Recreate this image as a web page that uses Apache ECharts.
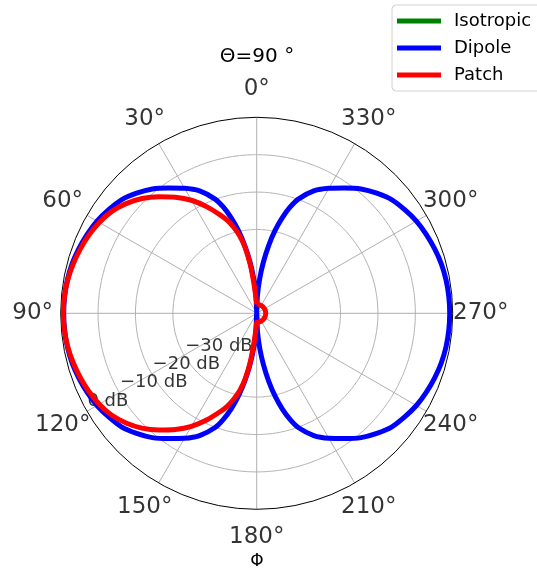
<!DOCTYPE html>
<html><head><meta charset="utf-8">
<script src="https://cdn.jsdelivr.net/npm/echarts@6/dist/echarts.min.js"></script>
<style>html,body{margin:0;padding:0;background:#fff}#c{width:537px;height:571px}</style>
</head><body><div id="c"></div>
<script>
// sampling angles (degrees, counter-clockwise from top); denser near the nulls
const angles = [0,2.5,5,7.5,10,12.5,15,17.5,20,
  25,30,35,40,45,50,55,60,65,70,75,80,85,90,95,100,105,110,115,120,125,130,135,140,145,150,155,
  160,162.5,165,167.5,170,172.5,175,177.5,180,182.5,185,187.5,190,192.5,195,197.5,200,
  205,210,215,220,225,230,235,240,245,250,255,260,265,270,275,280,285,290,295,300,305,310,315,320,325,330,335,
  340,342.5,345,347.5,350,352.5,355,357.5,360];

const dipoleDb = [-52.4,-47.5,-43,-38.5,-34,-29.7,-25.9,-22.6,-19.9,
  -16.3,-13.8,-11.5,-9.0,-7.0,-5.2,-4.1,-3.1,-2.4,-1.8,-1.3,-1.0,-0.85,-0.8,-0.85,-1.0,-1.3,-1.8,-2.4,-3.1,-4.1,-5.2,-7.0,-9.0,-11.5,-13.8,-16.3,
  -19.9,-22.6,-25.9,-29.7,-34,-38.5,-43,-47.5,-52.4,-47.5,-43,-38.5,-34,-29.7,-25.9,-22.6,-19.9,
  -16.3,-13.8,-11.5,-9.0,-7.0,-5.2,-4.1,-3.1,-2.4,-1.8,-1.3,-1.0,-0.85,-0.8,-0.85,-1.0,-1.3,-1.8,-2.4,-3.1,-4.1,-5.2,-7.0,-9.0,-11.5,-13.8,-16.3,
  -19.9,-22.6,-25.9,-29.7,-34,-38.5,-43,-47.5,-52.4];

const patchDb = [-50,-48.5,-45,-39.3,-34.5,-31.1,-28.6,-26.4,-24.6,
  -21.0,-17.5,-14.5,-11.7,-9.0,-6.8,-5.0,-3.8,-2.9,-2.2,-1.6,-1.1,-0.8,-0.7,-0.8,-1.1,-1.6,-2.2,-2.9,-3.8,-5.0,-6.8,-9.0,-11.7,-14.5,-17.5,-21.0,
  -24.6,-26.4,-28.6,-31.1,-34.5,-39.3,-45,-48.5,-50,-50,-50,-50,-50,-50,-50,-50,-50,
  -50,-50,-50,-50,-50,-50,-50,-50,-50,-50,-50,-50,-50,-50,-50,-50,-50,-50,-50,-50,-50,-50,-50,-50,-50,-50,-50,
  -50,-50,-50,-50,-50,-50,-50,-50,-50];

const isotropicDb = [];

const ringDb = [-30, -20, -10];
const rTickValues = [-30, -20, -10, 0];
const rTickLabels = ['\u221230 dB', '\u221220 dB', '\u221210 dB', '0 dB'];
const angleTicks = [0, 30, 60, 90, 120, 150, 180, 210, 240, 270, 300, 330];
const angleTickLabels = ['0°','30°','60°','90°','120°','150°','180°','210°','240°','270°','300°','330°'];

const FONT = 'DejaVu Sans';
const center = [256.7, 313.3];

const series = [];
ringDb.forEach(v => series.push({
  type: 'line', coordinateSystem: 'polar', polarIndex: 0, silent: true, symbol: 'none', z: 1,
  smooth: 0.5,
  lineStyle: { color: '#b0b0b0', width: 1 },
  data: angles.map(a => [v, a])
}));
series.push({
  type: 'scatter', coordinateSystem: 'polar', polarIndex: 0, silent: true, z: 1, symbolSize: 1,
  itemStyle: { color: 'rgba(0,0,0,0)' },
  data: rTickValues.map(v => [v, 119.4]),
  label: { show: true, position: 'right', distance: 1, offset: [0, -8.5],
    fontFamily: FONT, fontSize: 18, color: '#000',
    formatter: p => rTickLabels[p.dataIndex] }
});
series.push({ name: 'Isotropic', type: 'line', coordinateSystem: 'polar', polarIndex: 0, symbol: 'none', z: 3,
  color: '#008000', lineStyle: { color: '#008000', width: 5 }, data: isotropicDb });
series.push({ name: 'Dipole', type: 'line', coordinateSystem: 'polar', polarIndex: 0, symbol: 'none', z: 3,
  smooth: 0.3,
  color: '#0000ff', lineStyle: { color: '#0000ff', width: 5 },
  data: angles.map((a, i) => [dipoleDb[i], a]) });
series.push({ name: 'Patch', type: 'line', coordinateSystem: 'polar', polarIndex: 0, symbol: 'none', z: 4,
  smooth: 0.3,
  color: '#ff0000', lineStyle: { color: '#ff0000', width: 5 },
  data: angles.map((a, i) => [patchDb[i], a]) });
series.push({
  type: 'scatter', coordinateSystem: 'polar', polarIndex: 1, silent: true, symbolSize: 1,
  itemStyle: { color: 'rgba(0,0,0,0)' },
  data: angleTicks.map(a => [1, a]),
  label: { show: true, position: 'inside', fontFamily: FONT, fontSize: 23, color: '#000',
    formatter: p => angleTickLabels[p.dataIndex] }
});

const chart = echarts.init(document.getElementById('c'), null, { renderer: 'canvas' });
chart.setOption({
  animation: false,
  backgroundColor: '#fff',
  polar: [
    { center: center, radius: 196 },
    { center: center, radius: 224 }
  ],
  angleAxis: [
    { polarIndex: 0, type: 'value', startAngle: 90, clockwise: false, min: 0, max: 360, interval: 30,
      axisLine: { show: true, lineStyle: { color: '#000', width: 1 } },
      axisTick: { show: false }, axisLabel: { show: false },
      splitLine: { show: true, lineStyle: { color: '#b0b0b0', width: 1 } } },
    { polarIndex: 1, type: 'value', startAngle: 90, clockwise: false, min: 0, max: 360, show: false }
  ],
  radiusAxis: [
    { polarIndex: 0, type: 'value', min: -52.4, max: 0,
      axisLine: { show: false }, axisTick: { show: false }, axisLabel: { show: false },
      splitLine: { show: false } },
    { polarIndex: 1, type: 'value', min: 0, max: 1, show: false }
  ],
  legend: {
    data: ['Isotropic', 'Dipole', 'Patch'],
    orient: 'vertical', left: 392, top: 5,
    icon: 'rect', itemWidth: 44, itemHeight: 5, itemGap: 7,
    padding: [6, 20, 6, 5],
    backgroundColor: '#fff', borderColor: '#d0d0d0', borderWidth: 1, borderRadius: 4,
    textStyle: { fontFamily: FONT, fontSize: 18, color: '#000', lineHeight: 20, padding: [0, 0, 0, 8] }
  },
  graphic: [
    { type: 'text', x: 257, y: 57, style: { text: 'Θ=90 °', fontFamily: FONT, fontSize: 20,
      fill: '#000', align: 'center', verticalAlign: 'middle' } },
    { type: 'text', x: 257, y: 562, style: { text: 'Φ', fontFamily: FONT, fontSize: 17,
      fill: '#000', align: 'center', verticalAlign: 'middle' } }
  ],
  series: series
});
</script></body></html>
